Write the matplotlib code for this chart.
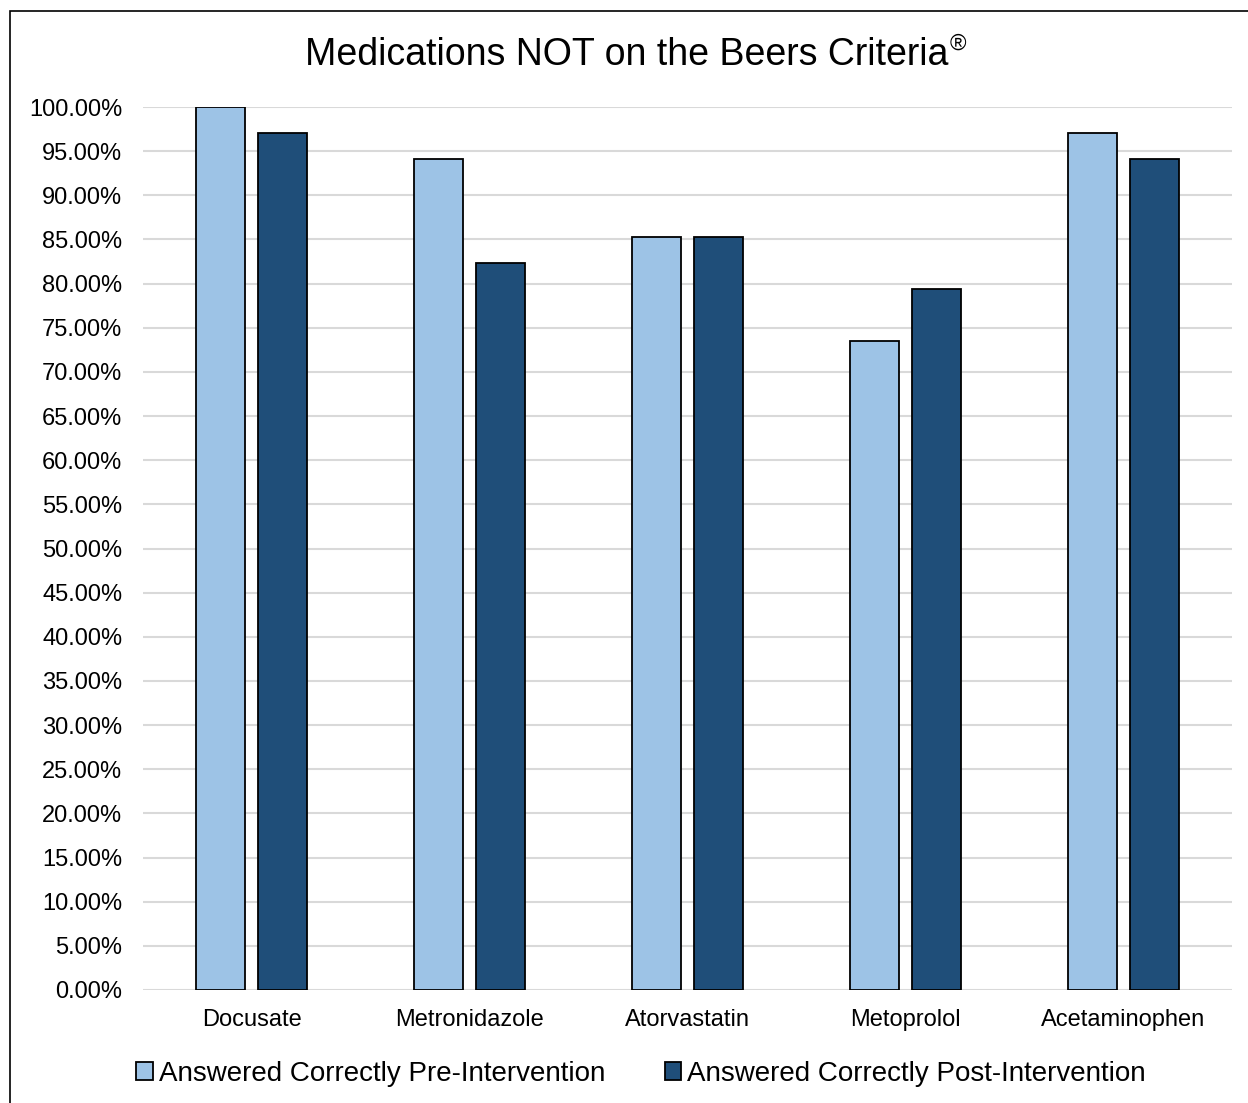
import numpy as np
import matplotlib.pyplot as plt
from matplotlib.patches import Rectangle

plt.rcParams['font.family'] = ['Liberation Sans', 'DejaVu Sans']

categories = ['Docusate', 'Metronidazole', 'Atorvastatin', 'Metoprolol', 'Acetaminophen']
pre = [100.0, 94.12, 85.29, 73.53, 97.06]
post = [97.06, 82.35, 85.29, 79.41, 94.12]
series_names = ['Answered Correctly Pre-Intervention', 'Answered Correctly Post-Intervention']
yticks = np.arange(0, 101, 5)

W, H = 1248, 1103
fig = plt.figure(figsize=(W / 100, H / 100), dpi=100)

# outer chart frame (right/bottom edges run off the image)
fig.patches.append(Rectangle((10 / W, -0.01), 1.1, 1 - 11 / H + 0.01, transform=fig.transFigure,
                             fill=False, edgecolor='black', linewidth=1.2))

ax = fig.add_axes([143 / W, 1 - 990 / H, (1232 - 143) / W, (990 - 107) / H])
x = np.arange(len(categories))
bw = 0.225
off = 0.142
ax.bar(x - off, pre, bw, color='#9DC3E6', edgecolor='black', linewidth=1.3, zorder=3, label=series_names[0])
ax.bar(x + off, post, bw, color='#1F4E79', edgecolor='black', linewidth=1.3, zorder=3, label=series_names[1])

ax.set_xlim(-0.5, len(categories) - 0.5)
ax.set_ylim(0, 100)
ax.set_yticks(yticks)
ax.set_yticklabels(['%.2f%%' % v for v in yticks], fontsize=17)
ax.set_xticks(x)
ax.set_xticklabels(categories, fontsize=17)
ax.tick_params(length=0)
ax.tick_params(axis='y', pad=15)
ax.tick_params(axis='x', pad=14)
ax.grid(axis='y', color='#D9D9D9', linewidth=1.5, zorder=0)
for s in ax.spines.values():
    s.set_visible(False)

# title, with the registered mark placed right after it
t = fig.text(627 / W, 1 - 55 / H, 'Medications NOT on the Beers Criteria', ha='center', va='center', fontsize=27)
r = fig.canvas.get_renderer()
bb = t.get_window_extent(r)
fig.text((bb.x1 + 1) / W, 1 - 44 / H, '®', ha='left', va='center', fontsize=16)

leg = fig.legend(loc='center', bbox_to_anchor=(641 / W, 1 - 1074 / H), ncol=2, frameon=False,
                 fontsize=20, handlelength=0.6, handleheight=0.6, handletextpad=0.2, columnspacing=2.15)

fig.savefig('out.png', dpi=100)
